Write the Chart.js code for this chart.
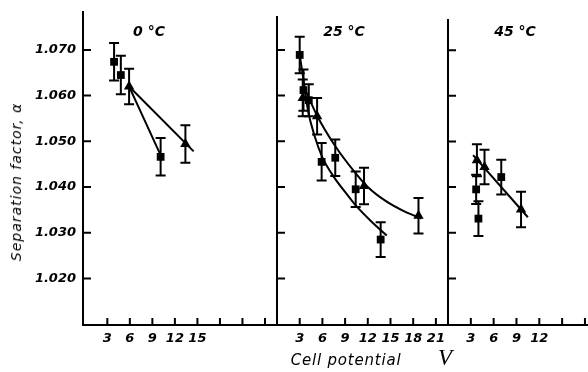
<!DOCTYPE html>
<html><head><meta charset="utf-8">
<script src="https://cdn.jsdelivr.net/npm/chart.js@4/dist/chart.umd.min.js"></script>
<style>
html,body{margin:0;padding:0;background:#fff;}
#wrap{position:relative;width:588px;height:372px;overflow:hidden;background:#fff;}
canvas{position:absolute;top:0;}
.lbl{position:absolute;font-family:"DejaVu Sans",sans-serif;font-style:italic;font-weight:bold;color:#000;white-space:nowrap;transform:translate(-50%,-50%);line-height:1;}
</style></head><body>
<div id="wrap">
<canvas id="c0" width="279" height="372" style="left:0px"></canvas>
<canvas id="c1" width="181" height="372" style="left:267px"></canvas>
<canvas id="c2" width="150" height="372" style="left:438px"></canvas>
<div class="lbl" style="left:149px;top:31px;font-size:14px;">0 °C</div>
<div class="lbl" style="left:344px;top:31px;font-size:14px;">25 °C</div>
<div class="lbl" style="left:515px;top:31px;font-size:14px;">45 °C</div>
<div class="lbl" style="left:16px;top:182px;font-size:14px;letter-spacing:1px;font-weight:normal;transform:translate(-50%,-50%) rotate(-90deg);">Separation factor, α</div>
<div class="lbl" style="left:346px;top:360px;font-size:15px;letter-spacing:0.8px;font-weight:normal;">Cell potential</div>
<div class="lbl" style="left:445px;top:357px;font-size:23px;font-weight:normal;font-family:'Liberation Serif',serif;">V</div>
</div>
<script>
// ---- data ----
const yTicks = [1.020, 1.030, 1.040, 1.050, 1.060, 1.070];

// 0 °C
const sq0X = [3.9, 4.8, 10.1];
const sq0Y = [1.0674, 1.0645, 1.0466];
const sq0E = [0.0041, 0.0042, 0.0041];
const tr0X = [5.9, 13.4];
const tr0Y = [1.0620, 1.0494];
const tr0E = [0.0039, 0.0041];
const fitSq0X = [5.9, 10.4];
const fitSq0Y = [1.0620, 1.0459];
const fitTr0X = [5.9, 14.5];
const fitTr0Y = [1.0620, 1.0478];
const xTicks0 = [3, 6, 9, 12, 15, 18, 21, 24];
const xLabels0 = [3, 6, 9, 12, 15];

// 25 °C
const sq25X = [3.0, 3.5, 4.2, 5.9, 7.7, 10.4, 13.7];
const sq25Y = [1.0689, 1.0612, 1.0590, 1.0455, 1.0464, 1.0395, 1.0285];
const sq25E = [0.0040, 0.0045, 0.0035, 0.0041, 0.0040, 0.0039, 0.0038];
const tr25X = [3.4, 5.3, 11.5, 18.7];
const tr25Y = [1.0595, 1.0555, 1.0402, 1.0337];
const tr25E = [0.0040, 0.0040, 0.0040, 0.0039];
const fitSq25X = [3.0, 3.5, 4.1, 5.0, 6.0, 7.6, 9.2, 10.5, 12.5, 14.5];
const fitSq25Y = [1.0689, 1.0635, 1.0567, 1.0510, 1.0465, 1.0420, 1.0385, 1.0358, 1.0324, 1.0294];
const fitTr25X = [3.4, 5.3, 7.6, 10.3, 12.0, 14.3, 16.9, 19.1];
const fitTr25Y = [1.0625, 1.0556, 1.0492, 1.0432, 1.0400, 1.0370, 1.0346, 1.0331];
const xTicks25 = [3, 6, 9, 12, 15, 18, 21];
const xLabels25 = [3, 6, 9, 12, 15, 18, 21];

// 45 °C
const sq45X = [3.7, 4.0, 7.0];
const sq45Y = [1.0395, 1.0331, 1.0422];
const sq45E = [0.0032, 0.0038, 0.0038];
const tr45X = [3.8, 4.8, 9.6];
const tr45Y = [1.0459, 1.0444, 1.0351];
const tr45E = [0.0035, 0.0038, 0.0039];
const fit45X = [3.3, 10.5];
const fit45Y = [1.0470, 1.0334];
const xTicks45 = [3, 6, 9, 12, 15, 18];
const xLabels45 = [3, 6, 9, 12];

// ---- helpers ----
const pts = (xs, ys) => xs.map((x, i) => ({x: x, y: ys[i]}));
const FONT = {family: '"DejaVu Sans", sans-serif', size: 13, style: 'italic', weight: 'bold'};

const errorBars = {
  id: 'errorBars',
  beforeDatasetsDraw(chart) {
    const ctx = chart.ctx, ys = chart.scales.y;
    chart.data.datasets.forEach((ds, i) => {
      if (!ds.errors) return;
      const meta = chart.getDatasetMeta(i);
      meta.data.forEach((pt, j) => {
        const v = ds.data[j].y, e = ds.errors[j];
        const x = pt.x, y1 = ys.getPixelForValue(v + e), y2 = ys.getPixelForValue(v - e);
        ctx.save();
        ctx.strokeStyle = '#000'; ctx.lineWidth = 2;
        ctx.beginPath();
        ctx.moveTo(x, y1); ctx.lineTo(x, y2);
        ctx.moveTo(x - 5, y1); ctx.lineTo(x + 5, y1);
        ctx.moveTo(x - 5, y2); ctx.lineTo(x + 5, y2);
        ctx.stroke();
        ctx.restore();
      });
    });
  }
};

const innerTicks = {
  id: 'innerTicks',
  afterDraw(chart) {
    const ctx = chart.ctx, a = chart.chartArea, x = chart.scales.x, y = chart.scales.y;
    ctx.save();
    ctx.strokeStyle = '#000'; ctx.lineWidth = 2;
    ctx.beginPath();
    y.ticks.forEach(t => { const p = y.getPixelForValue(t.value); ctx.moveTo(a.left, p); ctx.lineTo(a.left + 8, p); });
    x.ticks.forEach(t => { const p = x.getPixelForValue(t.value); ctx.moveTo(p, a.bottom); ctx.lineTo(p, a.bottom - 7); });
    ctx.stroke();
    ctx.restore();
  }
};

function markerSet(xs, ys, es, style, r) {
  return {data: pts(xs, ys), errors: es, pointStyle: style, pointRadius: r,
    backgroundColor: '#000', borderColor: '#000', borderWidth: 0, showLine: false};
}
function lineSet(xs, ys) {
  return {data: pts(xs, ys), showLine: true, pointRadius: 0, borderColor: '#000',
    borderWidth: 2, fill: false, cubicInterpolationMode: 'monotone'};
}

function makeChart(id, cfg) {
  new Chart(document.getElementById(id), {
    type: 'scatter',
    data: {datasets: cfg.datasets},
    options: {
      responsive: false, animation: false, devicePixelRatio: 1,
      layout: {autoPadding: false, padding: {top: cfg.top, right: cfg.right, left: 0, bottom: 0}},
      plugins: {legend: {display: false}, tooltip: {enabled: false}, title: {display: false}},
      scales: {
        x: {
          type: 'linear', min: cfg.xMin, max: cfg.xMax,
          afterBuildTicks: s => { s.ticks = cfg.xTicks.map(v => ({value: v})); },
          afterFit: s => { s.height = 47; s.paddingLeft = 0; s.paddingRight = 0; },
          grid: {display: false, drawTicks: false},
          border: {display: true, color: '#000', width: 2},
          ticks: {padding: 6, color: '#000', font: FONT, maxRotation: 0, minRotation: 0, autoSkip: false,
            callback: v => cfg.xLabels.includes(v) ? String(v) : ''}
        },
        y: {
          type: 'linear', min: 1.0098, max: cfg.yMax,
          afterBuildTicks: s => { s.ticks = yTicks.map(v => ({value: v})); },
          afterFit: s => { s.width = cfg.yWidth; s.paddingTop = 0; s.paddingBottom = 0; },
          grid: {display: false, drawTicks: false},
          border: {display: true, color: '#000', width: 2},
          ticks: {padding: 7, color: '#000', font: FONT, autoSkip: false,
            callback: v => cfg.yLabels ? v.toFixed(3) : ''}
        }
      }
    },
    plugins: [errorBars, innerTicks]
  });
}

makeChart('c0', {
  top: 12, right: 2, yWidth: 83, yMax: 1.0783, yLabels: true,
  xMin: -0.24, xMax: 25.6, xTicks: xTicks0, xLabels: xLabels0,
  datasets: [
    markerSet(sq0X, sq0Y, sq0E, 'rect', 5.5),
    markerSet(tr0X, tr0Y, tr0E, 'triangle', 6),
    lineSet(fitSq0X, fitSq0Y),
    lineSet(fitTr0X, fitTr0Y)
  ]
});
makeChart('c1', {
  top: 17, right: 0, yWidth: 10, yMax: 1.0772, yLabels: false,
  xMin: 0, xMax: 22.6, xTicks: xTicks25, xLabels: xLabels25,
  datasets: [
    markerSet(sq25X, sq25Y, sq25E, 'rect', 5.5),
    markerSet(tr25X, tr25Y, tr25E, 'triangle', 6),
    lineSet(fitSq25X, fitSq25Y),
    lineSet(fitTr25X, fitTr25Y)
  ]
});
makeChart('c2', {
  top: 20, right: 0, yWidth: 10, yMax: 1.0766, yLabels: false,
  xMin: 0, xMax: 18.4, xTicks: xTicks45, xLabels: xLabels45,
  datasets: [
    markerSet(sq45X, sq45Y, sq45E, 'rect', 5.5),
    markerSet(tr45X, tr45Y, tr45E, 'triangle', 6),
    lineSet(fit45X, fit45Y)
  ]
});
</script>
</body></html>
